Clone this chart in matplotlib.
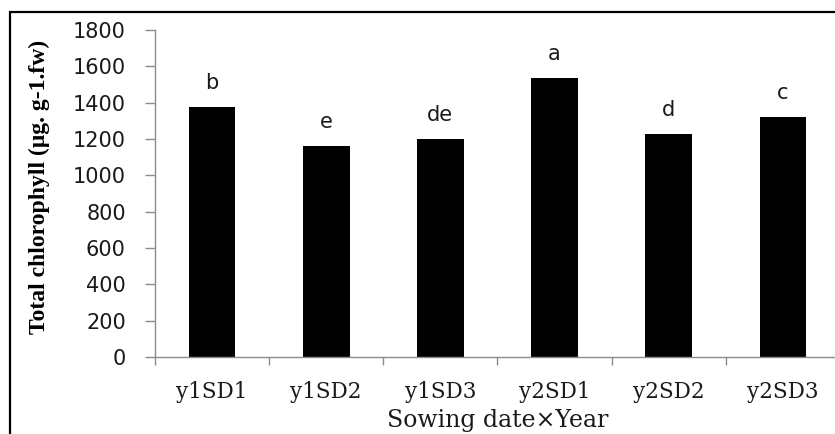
import matplotlib
matplotlib.use("Agg")
import matplotlib.pyplot as plt
from matplotlib.patches import Rectangle

# data
treatments = ["y1SD1", "y1SD2", "y1SD3", "y2SD1", "y2SD2", "y2SD3"]
chlorophyll = [1378, 1164, 1200, 1538, 1229, 1322]
letters = ["b", "e", "de", "a", "d", "c"]
y_ticks = [0, 200, 400, 600, 800, 1000, 1200, 1400, 1600, 1800]

W, H = 835, 434
fig = plt.figure(figsize=(W / 100, H / 100), dpi=100)
ax = fig.add_axes([155 / W, (H - 357) / H, 685 / W, 327 / H])

x = range(len(treatments))
ax.bar(x, chlorophyll, width=0.41, color="black")

for xi, val, lab in zip(x, chlorophyll, letters):
    ax.text(xi, val + 75, lab, ha="center", va="bottom",
            fontsize=15, family="DejaVu Sans", color="#1a1a1a")

ax.set_xlim(-0.5, len(treatments) - 0.5)
ax.set_ylim(0, 1800)
ax.set_yticks(y_ticks)
ax.set_yticklabels([str(v) for v in y_ticks], family="DejaVu Sans", fontsize=15,
                   color="#1a1a1a")

ax.set_xticks(list(x))
ax.set_xticklabels(treatments, family="DejaVu Serif", fontsize=15.5, color="#1a1a1a")
ax.set_xticks([i - 0.5 for i in range(len(treatments) + 1)], minor=True)
ax.tick_params(axis="x", which="major", length=0, pad=17)
ax.tick_params(axis="x", which="minor", length=6, width=1, color="#8c8c8c", direction="out")
ax.tick_params(axis="y", length=7, width=1, color="#8c8c8c", pad=14)

for side in ("top", "right"):
    ax.spines[side].set_visible(False)
for side in ("left", "bottom"):
    ax.spines[side].set_color("#8c8c8c")
    ax.spines[side].set_linewidth(1)

ax.set_xlabel("Sowing date\u00d7Year", family="DejaVu Serif", fontsize=17, color="#1a1a1a")
ax.xaxis.set_label_coords(0.5, -0.16)
ax.set_ylabel("Total chlorophyll (\u03bcg. g-1.fw)", family="Liberation Serif",
              fontsize=17, fontweight="bold")
ax.yaxis.set_label_coords(-0.153, 0.52)

# outer frame around the figure (cut off at right and bottom)
fig.patches.append(Rectangle((9.5 / W, -0.1), 1.2, (H - 12.5) / H + 0.1,
                             transform=fig.transFigure, fill=False,
                             edgecolor="black", linewidth=1.6))

fig.savefig("out.png", dpi=100)
